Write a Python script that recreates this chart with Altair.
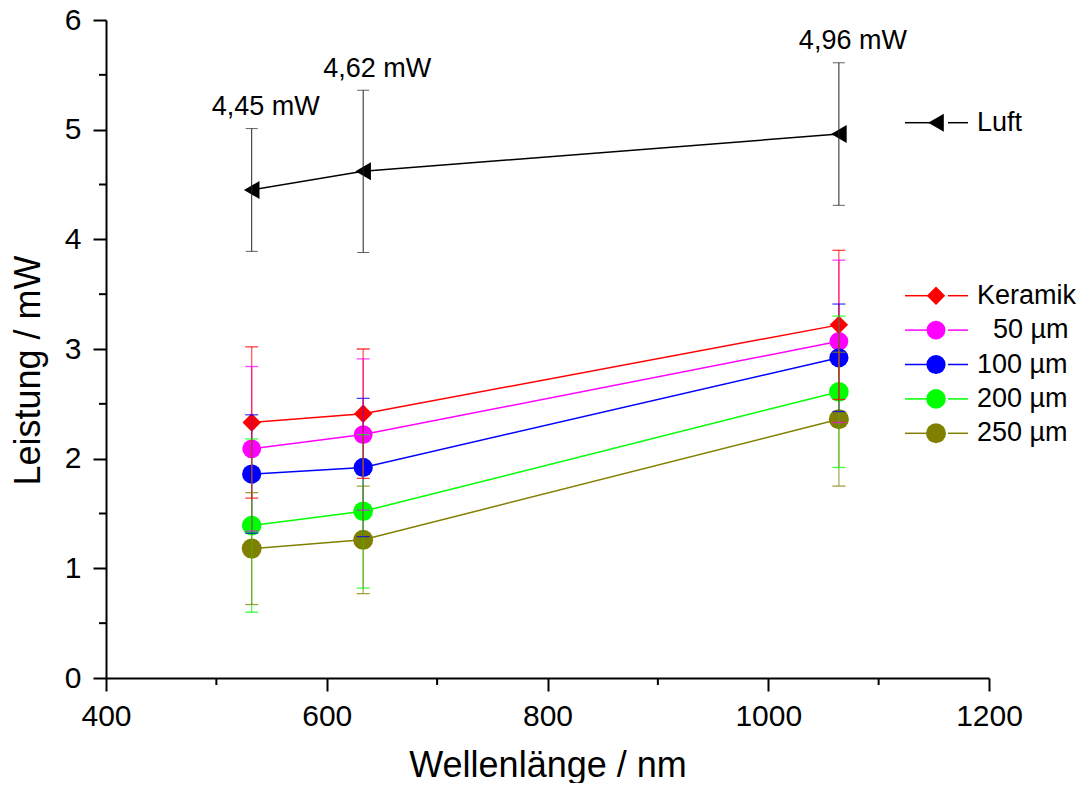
import altair as alt
import pandas as pd

# ---------------- data ----------------
wavelengths = [532, 633, 1064]
series = ["Luft", "Keramik", "50 µm", "100 µm", "200 µm", "250 µm"]
legend_labels = ["Luft", "Keramik", "50 µm", "100 µm", "200 µm", "250 µm"]
colors = ["#000000", "#ff0000", "#ff00ff", "#0000ff", "#00ff00", "#808000"]
shapes = ["triangle-left", "diamond", "circle", "circle", "circle", "circle"]
sizes = [324, 400, 246, 246, 246, 246]
draw_order = [0, 5, 1, 2, 3, 4]  # z-order (Keramik drawn on top)

luft = [4.45, 4.62, 4.96]
luft_err = [0.56, 0.74, 0.65]
keramik = [2.33, 2.41, 3.22]
keramik_err = [0.69, 0.59, 0.68]
um50 = [2.09, 2.22, 3.07]
um50_err = [0.75, 0.69, 0.74]
um100 = [1.86, 1.92, 2.92]
um100_err = [0.54, 0.63, 0.49]
um200 = [1.39, 1.52, 2.61]
um200_err = [0.79, 0.70, 0.69]
um250 = [1.18, 1.26, 2.36]
um250_err = [0.51, 0.49, 0.61]

x_major = [400, 600, 800, 1000, 1200]
x_minor = [500, 700, 900, 1100]
y_major = [0, 1, 2, 3, 4, 5, 6]
y_minor = [0.5, 1.5, 2.5, 3.5, 4.5, 5.5]

values = [luft, keramik, um50, um100, um200, um250]
errors = [luft_err, keramik_err, um50_err, um100_err, um200_err, um250_err]

rows = []
for i, name in enumerate(series):
    for j, wl in enumerate(wavelengths):
        v, e = values[i][j], errors[i][j]
        rows.append(dict(name=name, wl=wl, val=v, err=e, lo=v - e, hi=v + e,
                         z=draw_order[i],
                         label=f"{v:.2f}".replace(".", ",") + " mW"))
df = pd.DataFrame(rows).sort_values(["z", "wl"]).reset_index(drop=True)

leg = pd.DataFrame(dict(name=series, label=legend_labels, idx=list(range(len(series)))))
xm = pd.DataFrame(dict(m=x_minor))
ym = pd.DataFrame(dict(m=y_minor))

# ---------------- styles ----------------
FONT = "Liberation Sans"
xscale = alt.Scale(domain=[400, 1200], nice=False, zero=False)
yscale = alt.Scale(domain=[0, 6], nice=False)
axis_common = dict(grid=False, domainColor="black", domainWidth=2, tickColor="black",
                   tickWidth=2, tickSize=13, labelFont=FONT, labelFontSize=30,
                   labelColor="black", labelFlush=False, labelOverlap=False,
                   titleFont=FONT, titleFontSize=36, titleFontWeight="normal",
                   titleColor="black")
xaxis = alt.Axis(values=x_major, format="d", title="Wellenlänge / nm",
                 labelBaseline="alphabetic", labelPadding=34,
                 titleBaseline="alphabetic", titleY=98, **axis_common)
yaxis = alt.Axis(values=y_major, format="d", title="Leistung / mW",
                 labelPadding=12, titleBaseline="alphabetic", titleAngle=-90,
                 titleAlign="center", titleX=-67, titleY=350, **axis_common)

color = alt.Color("name:N", scale=alt.Scale(domain=series, range=colors), legend=None)
shape = alt.Shape("name:N", scale=alt.Scale(domain=series, range=shapes), legend=None)
size = alt.Size("name:N", scale=alt.Scale(domain=series, range=sizes), legend=None)

def X(f):
    return alt.X(f, scale=xscale, axis=xaxis)

def Y(f):
    return alt.Y(f, scale=yscale, axis=yaxis)

base = alt.Chart(df)

lines = base.mark_line(strokeWidth=1.5).encode(
    x=X("wl:Q"), y=Y("val:Q"), color=color, order=alt.Order("wl:Q"))

points = base.mark_point(filled=True, opacity=1, strokeWidth=0).encode(
    x=X("wl:Q"), y=Y("val:Q"), color=color, shape=shape, size=size,
    order=alt.Order("z:Q"))

colored = base.transform_filter("datum.name != 'Luft'")
eb_rule = colored.mark_rule(strokeWidth=1.3, opacity=0.65).encode(
    x=X("wl:Q"), y=Y("lo:Q"), y2="hi:Q", color=color)
eb_lo = colored.mark_tick(orient="horizontal", size=13, thickness=1.3, opacity=0.75).encode(
    x=X("wl:Q"), y=Y("lo:Q"), color=color)
eb_hi = colored.mark_tick(orient="horizontal", size=13, thickness=1.3, opacity=0.75).encode(
    x=X("wl:Q"), y=Y("hi:Q"), color=color)

lf = base.transform_filter("datum.name == 'Luft'")
lf_rule = lf.mark_rule(strokeWidth=1, color="#222222").encode(
    x=X("wl:Q"), y=Y("lo:Q"), y2="hi:Q")
lf_lo = lf.mark_tick(orient="horizontal", size=12, thickness=1, color="#222222").encode(
    x=X("wl:Q"), y=Y("lo:Q"))
lf_hi = lf.mark_tick(orient="horizontal", size=12, thickness=1, color="#222222").encode(
    x=X("wl:Q"), y=Y("hi:Q"))
lf_text = lf.mark_text(align="center", baseline="alphabetic", dx=14, dy=-13.5,
                       font=FONT, fontSize=27, color="black").encode(
    x=X("wl:Q"), y=Y("hi:Q"), text="label:N")

# minor ticks
xminor = alt.Chart(xm).mark_rule(color="black", strokeWidth=2).encode(
    x=X("m:Q"), y=alt.value(658), y2=alt.value(665))
yminor = alt.Chart(ym).mark_rule(color="black", strokeWidth=2).encode(
    y=Y("m:Q"), x=alt.value(0), x2=alt.value(-7))

# legend (the two-digit "50 µm" label is indented by one digit width, as in the original)
lb = alt.Chart(leg).transform_calculate(
    py="datum.idx == 0 ? 102.7 : 275.7 + (datum.idx - 1) * 34.4",
    tx="datum.idx == 2 ? 887 : 871")
ly = alt.Y("py:Q", scale=None, axis=None)
leg_l1 = lb.mark_rule(strokeWidth=1.5).encode(
    x=alt.value(799), x2=alt.value(830), y=ly, color=color)
leg_l2 = lb.mark_rule(strokeWidth=1.5).encode(
    x=alt.value(842), x2=alt.value(862), y=ly, color=color)
leg_p = lb.mark_point(filled=True, opacity=1, strokeWidth=0).encode(
    x=alt.value(830), y=ly, color=color, shape=shape, size=size)
leg_t = lb.mark_text(align="left", baseline="middle", font=FONT, fontSize=27,
                     color="black").encode(
    x=alt.X("tx:Q", scale=None, axis=None), y=ly, text="label:N")

chart = alt.layer(
    lines, points, eb_rule, eb_lo, eb_hi, lf_rule, lf_lo, lf_hi, lf_text,
    xminor, yminor, leg_l1, leg_l2, leg_p, leg_t
).properties(
    width=883, height=658,
    padding={"left": 98, "top": 12, "right": 92, "bottom": 105},
    autosize=alt.AutoSizeParams(type="none"),
).configure_view(stroke=None)

chart.save("out.html", embed_options={"renderer": "svg", "actions": False})
